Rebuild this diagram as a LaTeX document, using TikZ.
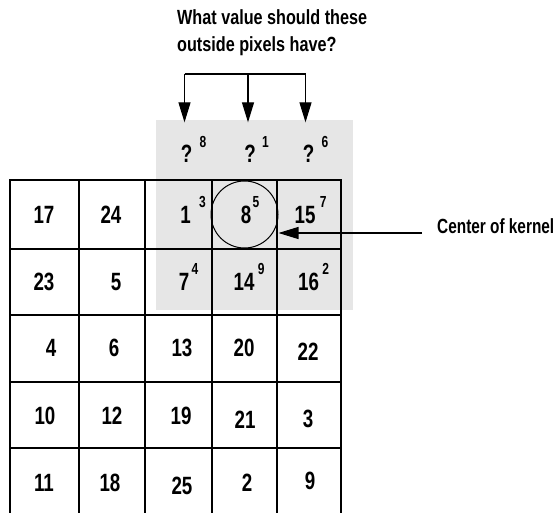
\documentclass[tikz,border=0pt]{standalone}
\usepackage{fontspec}
\setmainfont{Liberation Sans Bold}[FakeStretch=0.75]
\newfontfamily\headfont{Liberation Sans Bold}[FakeStretch=0.79]
\usetikzlibrary{arrows.meta}
\newcommand{\numsize}{\fontsize{25}{28}\selectfont}
\newcommand{\supsize}{\fontsize{16}{18}\selectfont}
\newcommand{\labsize}{\fontsize{20.5}{27}\selectfont}
\definecolor{padgray}{HTML}{E6E6E6}

\begin{document}
\begin{tikzpicture}[
  x=1pt,
  y=-1pt,
  every node/.style={inner sep=0pt, font=\numsize},
  gridline/.style={line width=1.5pt, line cap=rect},
  pad/.style={fill=padgray},
  hub/.style={draw, circle, line width=1pt, minimum size=67pt},
  pointer/.style={line width=1.2pt, -{Triangle[length=20pt,width=12pt]}},
  bracket/.style={line width=1.2pt},
  num/.style={anchor=base},
  supnum/.style={anchor=base west, font=\supsize}
]
  % ---- page, same size as the reference ----
  \path[use as bounding box] (0,0) rectangle (556,513);

  % ---- shaded neighbourhood, reaching outside the image ----
  \fill[pad] (156,120) rectangle (353,310);

  % ---- image grid, cut off at the bottom of the page ----
  \foreach \y in {180,249,315,382,448}
    \draw[gridline] (10,\y) -- (341,\y);
  \foreach \x in {10,79,145,212,277,341}
    \draw[gridline] (\x,180) -- (\x,520);

  % ---- kernel centre ----
  \node[hub] (hub) at (244.5,214.5) {};

  % ---- plain pixel values ----
  \foreach \cx/\by/\v in {44/223/17, 111/223/24, 44/290/23, 116/290/5,
      51/356/4, 114/356/6, 182/356/13, 244/356/20, 308/360/22,
      45/424/10, 112/424/12, 181/424/19, 245/428/21, 308/427/3,
      44/491/11, 110/491/18, 182/494/25, 247/491/2, 310/489/9}
    \node[num] (n\v) at (\cx,\by) {\v};

  % ---- values under the kernel, with kernel weights ----
  \foreach \nm/\cx/\by/\v/\s/\g in {k1/185.5/223/1/3/8, k8/246/223/8/5/1,
      k15/305/223/15/7/4, k7/184/290/7/4/2, k14/244/290/14/9/3,
      k16/308.5/290/16/2/3, q8/186.5/163/?/8/7, q1/250/163/?/1/6,
      q6/308.5/163/?/6/7}
  {
    \node[num] (\nm) at (\cx,\by) {\v};
    \node[supnum] (\nm w) at ([xshift=\g pt, yshift=15.5pt]\nm.base east) {\s};
  }

  % ---- question and bracket ----
  \node[anchor=north west, align=left, font=\headfont\labsize] (question)
    at (177,9) {What value should these\\outside pixels have?};
  \coordinate (bar) at (247,74);
  \draw[bracket] ([xshift=-2pt]q8 |- bar) -- ([xshift=-3pt]q6 |- bar);
  \foreach \q/\dx in {q8/-2,q1/-2,q6/-3}
    \draw[pointer] ([xshift=\dx pt]\q |- bar) -- ([xshift=\dx pt, yshift=23pt]\q.north);

  % ---- label for the centre ----
  \node[anchor=base west, font=\labsize] (kernel) at (437,233) {Center of kernel};
  \draw[pointer] ([xshift=-15pt]kernel.base west) -- (hub.east |- kernel.base);
\end{tikzpicture}
\end{document}
